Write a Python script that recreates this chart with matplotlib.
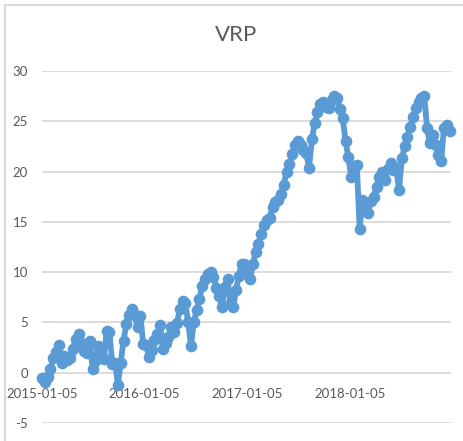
import matplotlib
matplotlib.use("Agg")
import matplotlib.pyplot as plt
from matplotlib.patches import Rectangle
import pandas as pd

plt.rcParams['font.family'] = ['Lato', 'DejaVu Sans']
plt.rcParams['axes.unicode_minus'] = False

title = "VRP"
start_date = "2015-01-05"
step_days = 10
vrp = [-0.5, -0.9, -0.4, 0.4, 1.5, 2.1, 2.8, 1.0, 1.7, 1.3,
       1.5, 2.4, 3.4, 3.8, 3.0, 2.2, 2.0, 3.2, 0.4, 1.2,
       2.7, 2.0, 1.4, 4.1, 4.0, 0.9, 1.0, -1.2, 1.0, 3.2,
       4.8, 5.7, 6.3, 5.7, 4.5, 5.6, 2.9, 2.8, 1.6, 2.3,
       3.3, 3.8, 4.7, 2.4, 3.0, 3.6, 4.5, 4.0, 4.9, 6.3,
       7.1, 6.9, 5.0, 2.7, 5.0, 6.2, 7.3, 8.6, 9.3, 9.8,
       10.0, 9.5, 8.4, 7.6, 6.5, 8.5, 9.3, 6.8, 6.5, 8.2,
       9.6, 10.8, 10.8, 10.0, 9.3, 10.8, 12.0, 12.8, 13.8, 14.7,
       15.2, 15.4, 16.5, 17.0, 17.2, 17.8, 18.7, 20.0, 20.8, 21.7,
       22.6, 23.0, 22.6, 22.1, 21.8, 20.4, 23.2, 24.8, 25.9, 26.7,
       26.9, 26.4, 26.3, 27.1, 27.5, 27.3, 26.2, 25.3, 23.0, 21.4,
       19.5, 20.6, 20.7, 14.3, 17.2, 16.7, 15.9, 17.1, 17.5, 18.5,
       19.5, 20.0, 19.2, 20.3, 20.9, 20.2, 20.4, 18.2, 21.3, 22.5,
       23.4, 24.4, 25.4, 26.3, 26.9, 27.3, 27.5, 24.3, 22.8, 23.6,
       22.6, 21.6, 21.1, 24.3, 24.6, 24.0]
x_tick_labels = ["2015-01-05", "2016-01-05", "2017-01-05", "2018-01-05"]
y_ticks = [-5, 0, 5, 10, 15, 20, 25, 30]

dates = pd.date_range(start_date, periods=len(vrp), freq=f"{step_days}D")

W, H = 464, 441
fig = plt.figure(figsize=(W / 100, H / 100), dpi=100)
fig.patch.set_facecolor("white")

# outer chart border (cropped on right/bottom)
fig.patches.append(Rectangle((5 / W, -20 / H), 520 / W, (436 + 20) / H,
                             transform=fig.transFigure, fill=False,
                             edgecolor="#d9d9d9", linewidth=1.5))

ax = fig.add_axes([42 / W, 1 - 423 / H, (451 - 42) / W, (423 - 71) / H])
ax.set_ylim(-5, 30)
x0 = pd.Timestamp(start_date)
ax.set_xlim(x0, x0 + pd.Timedelta(days=1455))

ax.set_yticks(y_ticks)
ax.set_yticklabels([str(v) for v in y_ticks])
ax.yaxis.grid(True, color="#d9d9d9", linewidth=1.3)
ax.set_axisbelow(True)
for s in ax.spines.values():
    s.set_visible(False)

ax.plot(dates, vrp, color="#5b9bd5", linewidth=4.2, marker="o",
        markersize=8.4, markeredgewidth=0, solid_capstyle="round",
        solid_joinstyle="round", zorder=3, clip_on=False)

ax.spines['bottom'].set_position(('data', 0))
ax.set_xticks([pd.Timestamp(t) for t in x_tick_labels])
ax.set_xticklabels(x_tick_labels)
ax.tick_params(axis='x', length=0, pad=11, labelsize=9.5, colors="#595959")
ax.tick_params(axis='y', length=0, pad=10, labelsize=9.5, colors="#595959")

fig.text(236 / W, 1 - 35 / H, title, ha="center", va="center",
         fontsize=16, color="#595959")

fig.savefig("out.png", dpi=100)
